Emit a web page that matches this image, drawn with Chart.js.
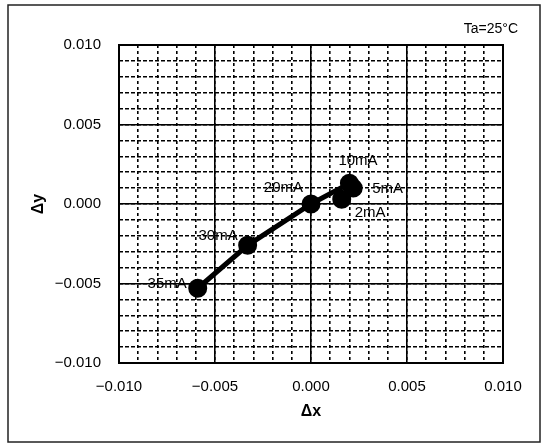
<!DOCTYPE html>
<html>
<head>
<meta charset="utf-8">
<script src="https://cdn.jsdelivr.net/npm/chart.js@4/dist/chart.umd.min.js"></script>
<style>
  body { margin: 0; background: #fff; }
  canvas { display: block; }
</style>
</head>
<body>
<canvas id="chromaChart" width="547" height="446"></canvas>
<script>
// chromaticity shift vs forward current
const currents = ['2mA', '5mA', '10mA', '20mA', '30mA', '35mA'];
const dx = [0.0016, 0.0022, 0.0020, 0.0000, -0.0033, -0.0059];
const dy = [0.0003, 0.0010, 0.0013, 0.0000, -0.0026, -0.0053];

const majorTicks = [-0.010, -0.005, 0.000, 0.005, 0.010];
const minorTicks = [-0.010, -0.009, -0.008, -0.007, -0.006, -0.005, -0.004, -0.003, -0.002, -0.001,
  0.000, 0.001, 0.002, 0.003, 0.004, 0.005, 0.006, 0.007, 0.008, 0.009, 0.010];

// where each current label sits relative to its point (px), and its alignment
const labelPos = [
  { ox: 13, oy: 14, align: 'left' },
  { ox: 19, oy: 1, align: 'left' },
  { ox: -11, oy: -22, align: 'left' },
  { ox: -8, oy: -16, align: 'right' },
  { ox: -10, oy: -9, align: 'right' },
  { ox: -11, oy: -4, align: 'right' }
];

const FONT = 'Liberation Sans, Arial, sans-serif';
const fmt = (v) => (v < 0 ? '\u2212' : '') + Math.abs(v).toFixed(3);

const setTicks = (list) => (scale) => { scale.ticks = list.map(v => ({ value: v })); };

const decor = {
  id: 'decor',
  beforeDraw(chart) {
    const ctx = chart.ctx;
    ctx.save();
    ctx.fillStyle = '#fff';
    ctx.fillRect(0, 0, chart.width, chart.height);
    ctx.restore();
  },
  afterDatasetsDraw(chart) {
    const ctx = chart.ctx;
    const meta = chart.getDatasetMeta(0);
    ctx.save();
    ctx.fillStyle = '#000';
    ctx.font = '15px ' + FONT;
    ctx.textBaseline = 'middle';
    meta.data.forEach((pt, i) => {
      const p = labelPos[i];
      ctx.textAlign = p.align;
      ctx.fillText(currents[i], pt.x + p.ox, pt.y + p.oy);
    });
    ctx.restore();
  },
  afterDraw(chart) {
    const ctx = chart.ctx;
    const a = chart.chartArea;
    ctx.save();
    ctx.strokeStyle = '#000';
    ctx.lineWidth = 2;
    ctx.strokeRect(a.left, a.top, a.right - a.left, a.bottom - a.top);
    // outer frame
    ctx.lineWidth = 1.5;
    ctx.strokeStyle = '#222';
    ctx.strokeRect(8, 5, 532, 437);
    ctx.fillStyle = '#000';
    ctx.font = '14px ' + FONT;
    ctx.textAlign = 'right';
    ctx.textBaseline = 'middle';
    ctx.fillText('Ta=25\u00B0C', 518, 29);
    ctx.restore();
  }
};

new Chart(document.getElementById('chromaChart'), {
  type: 'scatter',
  data: {
    datasets: [{
      data: dx.map((x, i) => ({ x: x, y: dy[i] })),
      showLine: true,
      borderColor: '#000',
      backgroundColor: '#000',
      borderWidth: 5,
      pointRadius: 7,
      pointHoverRadius: 7,
      tension: 0
    }]
  },
  options: {
    responsive: false,
    animation: false,
    events: [],
    layout: { padding: { top: 45, right: 44, left: 0, bottom: 0 } },
    plugins: { legend: { display: false }, tooltip: { enabled: false } },
    scales: {
      xMinor: {
        type: 'linear', position: 'bottom', min: -0.01, max: 0.01,
        afterBuildTicks: setTicks(minorTicks),
        afterFit: (s) => { s.height = 0; },
        ticks: { display: false },
        grid: { color: '#000', lineWidth: 1.6, drawTicks: false },
        border: { display: false, dash: [3, 3] }
      },
      yMinor: {
        type: 'linear', position: 'left', min: -0.01, max: 0.01,
        afterBuildTicks: setTicks(minorTicks),
        afterFit: (s) => { s.width = 0; },
        ticks: { display: false },
        grid: { color: '#000', lineWidth: 1.6, drawTicks: false },
        border: { display: false, dash: [4, 2] }
      },
      x: {
        type: 'linear', position: 'bottom', min: -0.01, max: 0.01,
        afterBuildTicks: setTicks(majorTicks),
        afterFit: (s) => { s.height = 83; },
        ticks: { color: '#000', font: { family: FONT, size: 15 }, padding: 15, callback: fmt, maxRotation: 0 },
        grid: { color: '#000', lineWidth: 1.6, drawTicks: false },
        border: { display: false },
        title: { display: true, text: '\u0394x', color: '#000', font: { family: FONT, size: 16, weight: 'bold' }, padding: { top: 0, bottom: 25 } }
      },
      y: {
        type: 'linear', position: 'left', min: -0.01, max: 0.01,
        afterBuildTicks: setTicks(majorTicks),
        afterFit: (s) => { s.width = 119; },
        ticks: { color: '#000', font: { family: FONT, size: 15 }, padding: 18, callback: fmt },
        grid: { color: '#000', lineWidth: 1.6, drawTicks: false },
        border: { display: false },
        title: { display: true, text: '\u0394y', color: '#000', font: { family: FONT, size: 16, weight: 'bold' }, padding: { top: 29, bottom: 0 } }
      }
    }
  },
  plugins: [decor]
});
</script>
</body>
</html>
